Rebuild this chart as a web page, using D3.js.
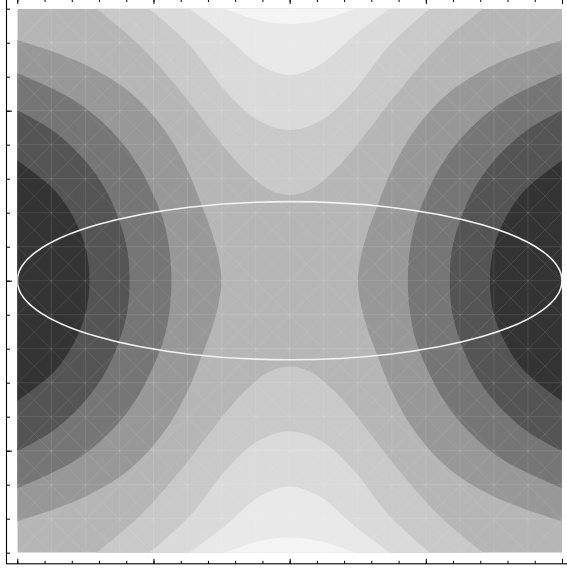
<!DOCTYPE html>
<html>
<head>
<meta charset="utf-8">
<script src="https://cdn.jsdelivr.net/npm/d3@7"></script>
<style>
  html, body { margin: 0; padding: 0; background: #ffffff; }
  svg { display: block; }
</style>
</head>
<body>
<svg id="chart" width="567" height="571"></svg>
<script>
// Level boundaries, upper-left quadrant only ([x, y] in plot units).
// Side boundaries run from the frame edge in to the horizontal axis.
const contour1 = [[-2.005, 0.71], [-1.721, 0.528], [-1.574, 0.351], [-1.493, 0.175], [-1.471, 0]];
const contour2 = [[-2.005, 1.004], [-1.735, 0.881], [-1.5, 0.704], [-1.346, 0.528], [-1.25, 0.351], [-1.191, 0.175], [-1.176, 0]];
const contour3 = [[-2.005, 1.222], [-1.574, 1.057], [-1.309, 0.881], [-1.132, 0.704], [-1.015, 0.528], [-0.926, 0.351], [-0.882, 0.175], [-0.868, 0]];
const contour4 = [[-2.005, 1.416], [-1.544, 1.286], [-1.176, 1.11], [-0.919, 0.886], [-0.75, 0.651], [-0.647, 0.445], [-0.566, 0.269], [-0.522, 0.134], [-0.5, 0]];
// Cap boundaries run from the top edge in to the vertical axis.
const contour5 = [[-1.419, 1.6], [-1.103, 1.386], [-0.809, 1.122], [-0.551, 0.857], [-0.331, 0.651], [-0.147, 0.534], [0, 0.504]];
const contour6 = [[-1.029, 1.6], [-0.735, 1.386], [-0.478, 1.122], [-0.235, 0.945], [0, 0.886]];
const contour7 = [[-0.735, 1.6], [-0.478, 1.445], [-0.221, 1.269], [0, 1.21]];
const contour8 = [[-0.478, 1.6], [-0.235, 1.534], [0, 1.51]];

// Shading of the nine bands, darkest (band 1) to lightest (band 9).
const bandGrays = ["#333333", "#545454", "#767676", "#989898", "#b6b6b6", "#c9c9c9", "#dadada", "#e9e9e9", "#f5f5f5"];

// Ellipse centred on the origin: semi-axes along x and y.
const ellipseCenter = [0, 0];
const ellipseAxes = [2, 0.465];

// Frame ticks.
const xMajorTicks = [-2, -1, 0, 1, 2];
const yMajorTicks = [-1, 0, 1];
const minorStep = 0.2;

const svg = d3.select("#chart");

const x = d3.scaleLinear().domain([-2, 2]).range([17.3, 562]);
const y = d3.scaleLinear().domain([-1.6, 1.6]).range([552.7, 8.7]);

svg.append("defs").append("clipPath").attr("id", "plotClip")
  .append("rect")
  .attr("x", x(-2)).attr("y", y(1.6))
  .attr("width", x(2) - x(-2)).attr("height", y(-1.6) - y(1.6));

const plot = svg.append("g").attr("clip-path", "url(#plotClip)");

// Base band (contains the saddle at the centre).
plot.append("rect")
  .attr("x", x(-2)).attr("y", y(1.6))
  .attr("width", x(2) - x(-2)).attr("height", y(-1.6) - y(1.6))
  .attr("fill", bandGrays[4]);

const curve = d3.line()
  .x(d => x(d[0])).y(d => y(d[1]))
  .curve(d3.curveCatmullRom.alpha(0.5));

// Region outside a side boundary; sx = 1 for the left side, -1 for the right.
function sideShape(q, sx) {
  const upper = q.map(([a, b]) => [a * sx, b]);
  const lower = q.slice(0, -1).reverse().map(([a, b]) => [a * sx, -b]);
  return curve(upper.concat(lower)) +
    `L${x(-2.6 * sx)},${y(-2.6)}L${x(-2.6 * sx)},${y(2.6)}Z`;
}

// Region beyond a cap boundary; sy = 1 for the top, -1 for the bottom.
function capShape(q, sy) {
  const left = q.map(([a, b]) => [a, b * sy]);
  const right = q.slice(0, -1).reverse().map(([a, b]) => [-a, b * sy]);
  return curve(left.concat(right)) +
    `L${x(2.6)},${y(2.6 * sy)}L${x(-2.6)},${y(2.6 * sy)}Z`;
}

const sideLevels = [
  { q: contour4, fill: bandGrays[3] },
  { q: contour3, fill: bandGrays[2] },
  { q: contour2, fill: bandGrays[1] },
  { q: contour1, fill: bandGrays[0] }
];
const capLevels = [
  { q: contour5, fill: bandGrays[5] },
  { q: contour6, fill: bandGrays[6] },
  { q: contour7, fill: bandGrays[7] },
  { q: contour8, fill: bandGrays[8] }
];

sideLevels.forEach(l => {
  [1, -1].forEach(s => plot.append("path").attr("d", sideShape(l.q, s)).attr("fill", l.fill));
});
capLevels.forEach(l => {
  [1, -1].forEach(s => plot.append("path").attr("d", capShape(l.q, s)).attr("fill", l.fill));
});

// Faint rendering mesh over the shading.
const mesh = plot.append("g")
  .attr("stroke", "#ffffff").attr("stroke-opacity", 0.1).attr("stroke-width", 1).attr("fill", "none");
const gx = d3.range(-2, 2.0001, 0.25);
const gy = d3.range(-1.6, 1.6001, 0.2);
gx.forEach(v => mesh.append("line").attr("x1", x(v)).attr("x2", x(v)).attr("y1", y(1.6)).attr("y2", y(-1.6)));
gy.forEach(v => mesh.append("line").attr("y1", y(v)).attr("y2", y(v)).attr("x1", x(-2)).attr("x2", x(2)));
const cell = x(0.25) - x(0);
for (let k = -20; k <= 40; k++) {
  const x0 = x(-2) + k * cell;
  mesh.append("line").attr("x1", x0).attr("y1", y(1.6)).attr("x2", x0 + 600).attr("y2", y(1.6) + 600);
  mesh.append("line").attr("x1", x0).attr("y1", y(1.6)).attr("x2", x0 - 600).attr("y2", y(1.6) + 600);
}

// Ellipse outline.
plot.append("ellipse")
  .attr("cx", x(ellipseCenter[0])).attr("cy", y(ellipseCenter[1]))
  .attr("rx", x(ellipseAxes[0]) - x(0)).attr("ry", y(0) - y(ellipseAxes[1]))
  .attr("fill", "none").attr("stroke", "#f2f2f2").attr("stroke-width", 1.6);

// Frame with inward ticks.
const minorX = d3.range(-2, 2.0001, minorStep);
const minorY = d3.range(-1.6, 1.6001, minorStep);
const frame = { left: 6.5, bottom: 563.8, top: -1, right: 573 };

function drawAxis(axisFn, scale, values, size, transform) {
  const g = svg.append("g").attr("transform", transform)
    .call(axisFn(scale).tickValues(values).tickSizeInner(-size).tickSizeOuter(0).tickFormat(""));
  g.select(".domain").remove();
  g.selectAll("line").attr("stroke", "#000").attr("stroke-width", 1);
}
drawAxis(d3.axisBottom, x, minorX, 3, `translate(0,${frame.bottom})`);
drawAxis(d3.axisBottom, x, xMajorTicks, 5, `translate(0,${frame.bottom})`);
drawAxis(d3.axisTop, x, minorX, 3, `translate(0,${frame.top})`);
drawAxis(d3.axisTop, x, xMajorTicks, 5, `translate(0,${frame.top})`);
drawAxis(d3.axisLeft, y, minorY, 3.5, `translate(${frame.left},0)`);
drawAxis(d3.axisLeft, y, yMajorTicks, 5.5, `translate(${frame.left},0)`);
drawAxis(d3.axisRight, y, minorY, 3.5, `translate(${frame.right},0)`);
drawAxis(d3.axisRight, y, yMajorTicks, 5.5, `translate(${frame.right},0)`);

svg.append("rect")
  .attr("x", frame.left).attr("y", frame.top)
  .attr("width", frame.right - frame.left).attr("height", frame.bottom - frame.top)
  .attr("fill", "none").attr("stroke", "#000").attr("stroke-width", 1.1);
</script>
</body>
</html>
